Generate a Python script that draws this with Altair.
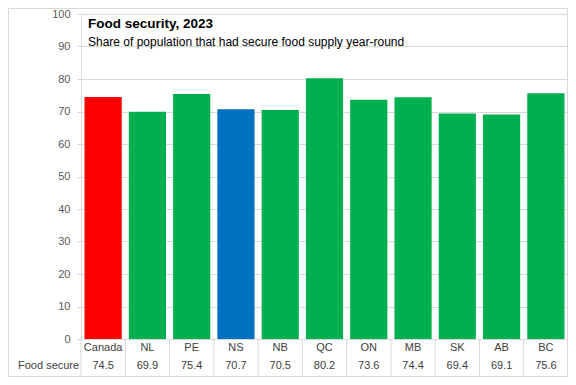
import altair as alt
import pandas as pd

# ---- data ----
categories = ["Canada", "NL", "PE", "NS", "NB", "QC", "ON", "MB", "SK", "AB", "BC"]
food_secure = [74.5, 69.9, 75.4, 70.7, 70.5, 80.2, 73.6, 74.4, 69.4, 69.1, 75.6]
row_label = "Food secure"
title_text = "Food security, 2023"
subtitle_text = "Share of population that had secure food supply year-round"
y_ticks = list(range(0, 101, 10))

# ---- styles ----
bar_colors = ["#FF0000", "#00B050", "#00B050", "#0070C0", "#00B050", "#00B050",
              "#00B050", "#00B050", "#00B050", "#00B050", "#00B050"]
FONT = "Liberation Sans"
GRID = "#D9D9D9"

PL, PT, PR, PB = 73, 6, 0, 38
W, H = 487, 325
P_IN, P_OUT = 0.16, 0.08
step = W / (len(categories) - P_IN + 2 * P_OUT)
half_gap = P_IN * step / 2

df = pd.DataFrame({
    "cat": categories,
    "value": food_secure,
    "label": [f"{v:.1f}" for v in food_secure],
})

xscale = alt.Scale(domain=categories, paddingInner=P_IN, paddingOuter=P_OUT)
xenc = alt.X("cat:N", sort=categories, scale=xscale, axis=None)

base = alt.Chart(df)

bars = base.mark_bar().encode(
    x=xenc,
    y=alt.Y("value:Q",
            scale=alt.Scale(domain=[0, 100], nice=False),
            axis=alt.Axis(values=y_ticks, grid=True, gridColor=GRID, domain=False,
                          tickColor=GRID, tickSize=4, labelPadding=7,
                          labelFont=FONT, labelFontSize=11, labelColor="#595959",
                          title=None)),
    color=alt.Color("cat:N", scale=alt.Scale(domain=categories, range=bar_colors),
                    legend=None),
)

cat_text = base.mark_text(font=FONT, fontSize=11, color="#404040", baseline="middle").encode(
    x=xenc, y=alt.value(H + 9), text="cat:N")

val_text = base.mark_text(font=FONT, fontSize=11, color="#404040", baseline="middle").encode(
    x=xenc, y=alt.value(H + 27), text="label:N")

vlines = base.mark_rule(color=GRID, xOffset=-half_gap).encode(
    x=alt.X("cat:N", sort=categories, scale=xscale, axis=None, bandPosition=0),
    y=alt.value(H), y2=alt.value(H + PB))

single = alt.Chart(alt.Data(values=[{"a": 1}]))

right_line = single.mark_rule(color=GRID).encode(
    x=alt.value(W - 0.5), y=alt.value(H), y2=alt.value(H + PB))

row_text = single.mark_text(font=FONT, fontSize=11, color="#404040", align="left",
                            baseline="middle").encode(
    x=alt.value(-PL + 10), y=alt.value(H + 27), text=alt.value(row_label))

title = single.mark_text(font=FONT, fontSize=13.5, fontWeight="bold", color="#000000",
                         align="left", baseline="middle").encode(
    x=alt.value(7), y=alt.value(10), text=alt.value(title_text))

subtitle = single.mark_text(font=FONT, fontSize=12, color="#000000",
                            align="left", baseline="middle").encode(
    x=alt.value(7), y=alt.value(27.5), text=alt.value(subtitle_text))

border = single.mark_rect(fillOpacity=0, stroke=GRID, strokeWidth=1).encode(
    x=alt.value(-PL + 0.5), x2=alt.value(W + PR - 0.5),
    y=alt.value(-PT + 0.5), y2=alt.value(H + PB - 0.5))

chart = alt.layer(
    bars, vlines, right_line, cat_text, val_text, row_text, title, subtitle, border
).properties(
    width=W, height=H,
    padding={"left": PL, "top": PT, "right": PR, "bottom": PB},
    autosize=alt.AutoSizeParams(type="none"),
).configure_view(stroke=None).configure(background="white")

chart.save("out.html", embed_options={"renderer": "svg", "actions": False})
